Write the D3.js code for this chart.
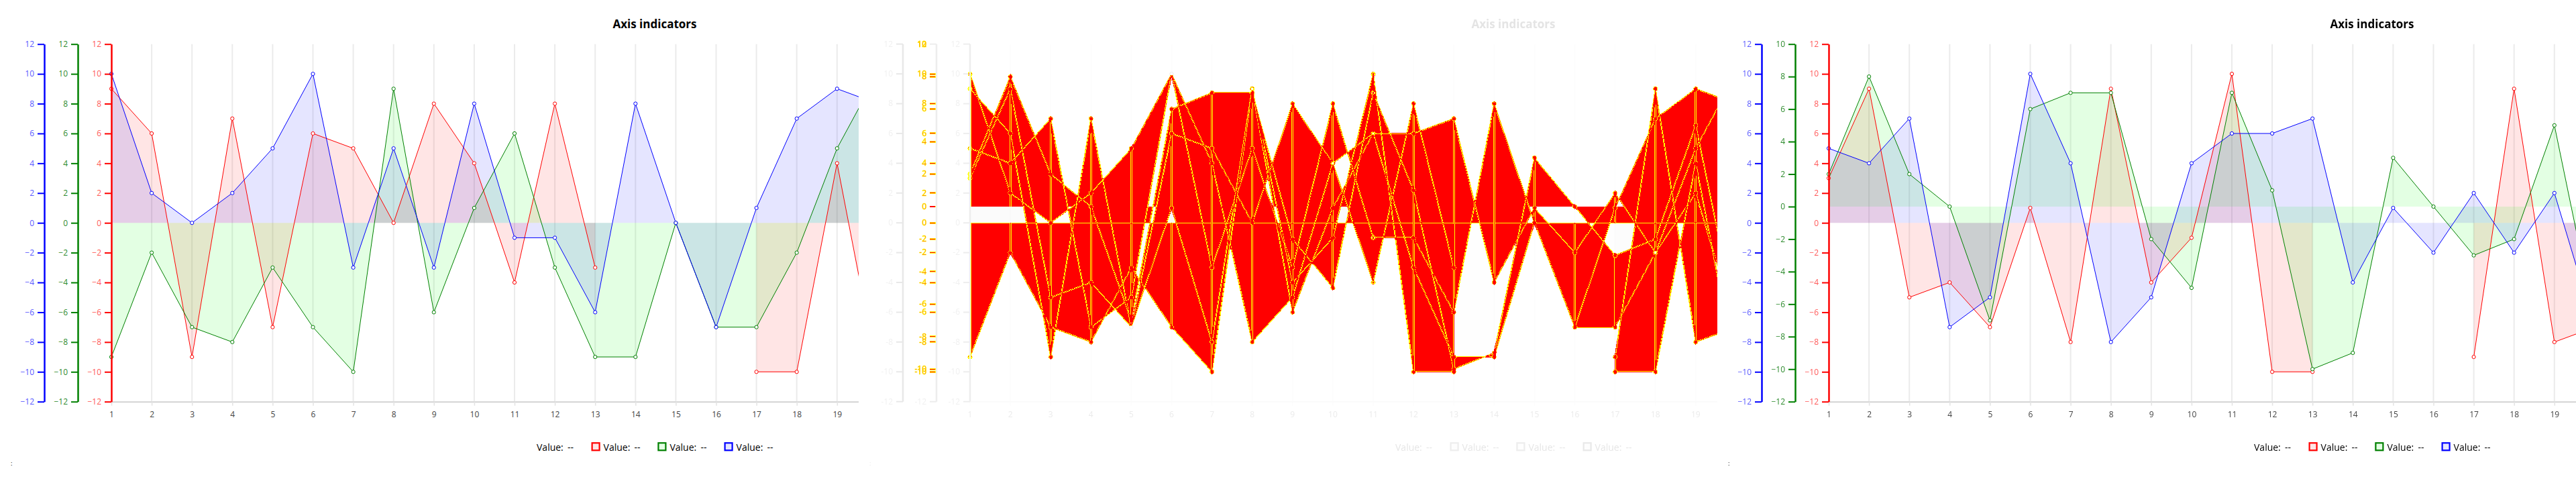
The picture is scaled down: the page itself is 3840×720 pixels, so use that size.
<!DOCTYPE html>
<html><head><meta charset="utf-8">
<script src="https://cdn.jsdelivr.net/npm/d3@7"></script>
<style>
html,body{margin:0;padding:0;background:#fff;}
#wrap{position:relative;width:3840px;height:720px;overflow:hidden;background:#fff;}
#diff{position:absolute;left:1280px;top:0;}
#main{position:absolute;left:0;top:0;}
text{font-family:"Open Sans",sans-serif;}
</style></head><body>
<div id="wrap"><canvas id="diff" width="1280" height="720"></canvas><svg id="main" width="3840" height="720"></svg></div>
<script>
// ---------------- data ----------------
const categories = [1,2,3,4,5,6,7,8,9,10,11,12,13,14,15,16,17,18,19,20]; // 20 lies past the clipped edge
const xTickLabels = [1,2,3,4,5,6,7,8,9,10,11,12,13,14,15,16,17,18,19];
const yTicksMain = [-12,-10,-8,-6,-4,-2,0,2,4,6,8,10,12];
const yTicksGreenRight = [-12,-10,-8,-6,-4,-2,0,2,4,6,8,10];
const titleText = "Axis indicators";
const legendLabels = ["Value:", "Value:", "Value:", "Value:"];
const legendValue = "--";

const leftRed   = [9,6,-9,7,-7,6,5,0,8,4,-4,8,-3,null,null,null,-10,-10,4,-10];
const leftGreen = [-9,-2,-7,-8,-3,-7,-10,9,-6,1,6,-3,-9,-9,0,-7,-7,-2,5,10];
const leftBlue  = [10,2,0,2,5,10,-3,5,-3,8,-1,-1,-6,8,0,-7,1,7,9,8];

const rightRed   = [3,9,-5,-4,-7,1,-8,9,-4,-1,10,-10,-10,null,null,null,-9,9,-8,-7];
const rightGreen = [2,8,2,0,-7,6,7,7,-2,-5,7,1,-10,-9,3,0,-3,-2,5,-7];
const rightBlue  = [5,4,7,-7,-5,10,4,-8,-5,4,6,6,7,-4,1,-2,2,-2,2,-7];

// ---------------- layout ----------------
const W = 1280, H = 720, TOP = 65.7, BOTTOM = 598.7, X0 = 166, STEP = 60.1;
const AX = {blue: 66, green: 116, red: 166};
const TITLE_X = 976;
const x = d3.scaleLinear().domain([1, 20]).range([X0, X0 + 19 * STEP]);
const yMain = d3.scaleLinear().domain([-12, 12]).range([BOTTOM, TOP]);
const yGreenRight = d3.scaleLinear().domain([-12, 10]).range([BOTTOM, TOP]);

const COLOR = {red: '#ff0000', green: '#008000', blue: '#0000ff'};
const FILL = {red: 'rgba(255,0,0,0.1)', green: 'rgba(0,255,0,0.11)', blue: 'rgba(0,0,255,0.1)'};
const LABEL = {red: '#ff5a5a', green: '#2e8b2e', blue: '#5a5aff'};
const legendKeys = [null, 'red', 'green', 'blue'];
const LEG_TEXT_X = [800, 899.6, 998.4, 1097.6];

function makeSpec(r, g, b, greenScale, greenTicks) {
  return {
    axes: [
      {key: 'blue', scale: yMain, ticks: yTicksMain},
      {key: 'green', scale: greenScale, ticks: greenTicks},
      {key: 'red', scale: yMain, ticks: yTicksMain}
    ],
    series: [
      {key: 'red', values: r, scale: yMain},
      {key: 'green', values: g, scale: greenScale},
      {key: 'blue', values: b, scale: yMain}
    ]
  };
}
const specLeft = makeSpec(leftRed, leftGreen, leftBlue, yMain, yTicksMain);
const specRight = makeSpec(rightRed, rightGreen, rightBlue, yGreenRight, yTicksGreenRight);

const defined = d => d != null;
const areaGen = s => d3.area().defined(defined).x((d, i) => x(categories[i])).y0(s.scale(0)).y1(d => s.scale(d));
const lineGen = s => d3.line().defined(defined).x((d, i) => x(categories[i])).y(d => s.scale(d));

// ---------------- SVG panel ----------------
function drawSVGPanel(root, spec) {
  const g = root;
  g.append('rect').attr('width', W).attr('height', H).attr('fill', '#fff');
  g.append('g').selectAll('line').data(xTickLabels).join('line')
    .attr('x1', d => x(d)).attr('x2', d => x(d)).attr('y1', TOP).attr('y2', BOTTOM)
    .attr('stroke', '#ebebeb').attr('stroke-width', 2);
  const xa = g.append('g').attr('transform', `translate(0,${BOTTOM})`)
    .call(d3.axisBottom(x).tickValues(xTickLabels).tickSize(6).tickSizeOuter(0).tickPadding(9));
  xa.select('.domain').attr('stroke', '#d3d3d3').attr('stroke-width', 2);
  xa.selectAll('.tick line').attr('stroke', '#e3e3e3').attr('stroke-width', 1.5);
  xa.selectAll('text').attr('fill', '#444').attr('font-size', 12).attr('font-family', '"Open Sans",sans-serif');

  spec.series.forEach(s => {
    g.append('path').attr('d', areaGen(s)(s.values)).attr('fill', FILL[s.key]).attr('stroke', 'none');
  });
  spec.series.forEach(s => {
    g.append('path').attr('d', lineGen(s)(s.values)).attr('fill', 'none').attr('stroke', COLOR[s.key]).attr('stroke-width', 1);
  });
  spec.series.forEach(s => {
    g.append('g').selectAll('circle').data(s.values.map((v, i) => ({v, c: categories[i]})).filter(d => d.v != null))
      .join('circle').attr('cx', d => x(d.c)).attr('cy', d => s.scale(d.v)).attr('r', 2.6)
      .attr('fill', '#fff').attr('stroke', COLOR[s.key]).attr('stroke-width', 1);
  });
  spec.axes.forEach(a => {
    const ag = g.append('g').attr('transform', `translate(${AX[a.key]},0)`)
      .call(d3.axisLeft(a.scale).tickValues(a.ticks).tickSize(10).tickSizeOuter(0).tickPadding(5));
    ag.select('.domain').attr('stroke', COLOR[a.key]).attr('stroke-width', 2.5);
    ag.selectAll('.tick line').attr('stroke', COLOR[a.key]).attr('stroke-width', 2);
    ag.selectAll('text').attr('fill', LABEL[a.key]).attr('font-size', 12).attr('font-family', '"Open Sans",sans-serif');
  });
  g.append('text').attr('x', TITLE_X).attr('y', 42).attr('text-anchor', 'middle')
    .attr('font-size', 17).attr('font-weight', 'bold').attr('fill', '#000').text(titleText);
  drawLegendSVG(g, '#000', true);
  g.append('text').attr('x', 16).attr('y', 694).attr('font-size', 9).attr('fill', '#000').text(':');
}

function drawLegendSVG(g, textColor, withBoxes) {
  legendKeys.forEach((k, i) => {
    const tx = LEG_TEXT_X[i];
    if (k && withBoxes) {
      g.append('rect').attr('x', tx - 17).attr('y', 660.3).attr('width', 11).attr('height', 11)
        .attr('fill', FILL[k]).attr('stroke', COLOR[k]).attr('stroke-width', 2.2);
    }
    g.append('text').attr('x', tx).attr('y', 671.5).attr('font-size', 14).attr('fill', textColor).text(legendLabels[i]);
    g.append('text').attr('x', tx + 46).attr('y', 671.5).attr('font-size', 14).attr('fill', textColor).text(legendValue);
  });
}

// ---------------- canvas render (for the pixel diff) ----------------
function renderCanvas(spec) {
  const c = document.createElement('canvas'); c.width = W; c.height = H;
  const ctx = c.getContext('2d');
  ctx.fillStyle = '#fff'; ctx.fillRect(0, 0, W, H);
  ctx.strokeStyle = '#ebebeb'; ctx.lineWidth = 2;
  xTickLabels.forEach(t => { ctx.beginPath(); ctx.moveTo(x(t), TOP); ctx.lineTo(x(t), BOTTOM); ctx.stroke(); });
  ctx.strokeStyle = '#e3e3e3'; ctx.lineWidth = 1.5;
  xTickLabels.forEach(t => { ctx.beginPath(); ctx.moveTo(x(t), BOTTOM); ctx.lineTo(x(t), BOTTOM + 6); ctx.stroke(); });
  ctx.strokeStyle = '#d3d3d3'; ctx.lineWidth = 2;
  ctx.beginPath(); ctx.moveTo(x(1), BOTTOM); ctx.lineTo(x(20), BOTTOM); ctx.stroke();
  spec.series.forEach(s => {
    ctx.beginPath(); areaGen(s).context(ctx)(s.values); ctx.fillStyle = FILL[s.key]; ctx.fill();
  });
  spec.series.forEach(s => {
    ctx.beginPath(); lineGen(s).context(ctx)(s.values); ctx.strokeStyle = COLOR[s.key]; ctx.lineWidth = 1; ctx.stroke();
  });
  spec.series.forEach(s => {
    s.values.forEach((v, i) => {
      if (v == null) return;
      ctx.beginPath(); ctx.arc(x(categories[i]), s.scale(v), 2.6, 0, 2 * Math.PI);
      ctx.fillStyle = '#fff'; ctx.fill(); ctx.strokeStyle = COLOR[s.key]; ctx.lineWidth = 1; ctx.stroke();
    });
  });
  spec.axes.forEach(a => {
    const ax = AX[a.key];
    ctx.strokeStyle = COLOR[a.key];
    ctx.lineWidth = 2.5;
    ctx.beginPath(); ctx.moveTo(ax, a.scale.range()[0]); ctx.lineTo(ax, a.scale.range()[1]); ctx.stroke();
    ctx.lineWidth = 2;
    a.ticks.forEach(t => { const yy = a.scale(t); ctx.beginPath(); ctx.moveTo(ax - 10, yy); ctx.lineTo(ax, yy); ctx.stroke(); });
  });
  legendKeys.forEach((k, i) => {
    if (!k) return;
    const tx = LEG_TEXT_X[i];
    ctx.fillStyle = '#fff'; ctx.fillRect(tx - 17, 660.3, 11, 11);
    ctx.fillStyle = FILL[k]; ctx.fillRect(tx - 17, 660.3, 11, 11);
    ctx.strokeStyle = COLOR[k]; ctx.lineWidth = 2.2; ctx.strokeRect(tx - 17, 660.3, 11, 11);
  });
  return ctx.getImageData(0, 0, W, H).data;
}

// ---------------- pixel diff ----------------
const rgb2y = (r, g, b) => r * 0.29889531 + g * 0.58662247 + b * 0.11448223;
const rgb2i = (r, g, b) => r * 0.59597799 - g * 0.27417610 - b * 0.32180189;
const rgb2q = (r, g, b) => r * 0.21147017 - g * 0.52261711 + b * 0.31114694;
const blend = (c, a) => 255 + (c - 255) * a;
function colorDelta(i1, i2, k, m, yOnly) {
  let r1 = i1[k], g1 = i1[k + 1], b1 = i1[k + 2], a1 = i1[k + 3];
  let r2 = i2[m], g2 = i2[m + 1], b2 = i2[m + 2], a2 = i2[m + 3];
  if (a1 === a2 && r1 === r2 && g1 === g2 && b1 === b2) return 0;
  if (a1 < 255) { a1 /= 255; r1 = blend(r1, a1); g1 = blend(g1, a1); b1 = blend(b1, a1); }
  if (a2 < 255) { a2 /= 255; r2 = blend(r2, a2); g2 = blend(g2, a2); b2 = blend(b2, a2); }
  const y1 = rgb2y(r1, g1, b1), y2 = rgb2y(r2, g2, b2), y = y1 - y2;
  if (yOnly) return y;
  const i = rgb2i(r1, g1, b1) - rgb2i(r2, g2, b2);
  const q = rgb2q(r1, g1, b1) - rgb2q(r2, g2, b2);
  const d = 0.5053 * y * y + 0.299 * i * i + 0.1957 * q * q;
  return y1 > y2 ? -d : d;
}
function hasManySiblings(img, x1, y1, w, h) {
  const x0 = Math.max(x1 - 1, 0), y0 = Math.max(y1 - 1, 0), x2 = Math.min(x1 + 1, w - 1), y2 = Math.min(y1 + 1, h - 1);
  const pos = (y1 * w + x1) * 4;
  let zeroes = (x1 === x0 || x1 === x2 || y1 === y0 || y1 === y2) ? 1 : 0;
  for (let xx = x0; xx <= x2; xx++) for (let yy = y0; yy <= y2; yy++) {
    if (xx === x1 && yy === y1) continue;
    const p2 = (yy * w + xx) * 4;
    if (img[pos] === img[p2] && img[pos + 1] === img[p2 + 1] && img[pos + 2] === img[p2 + 2] && img[pos + 3] === img[p2 + 3]) zeroes++;
    if (zeroes > 2) return true;
  }
  return false;
}
function antialiased(img, x1, y1, w, h, img2) {
  const x0 = Math.max(x1 - 1, 0), y0 = Math.max(y1 - 1, 0), x2 = Math.min(x1 + 1, w - 1), y2 = Math.min(y1 + 1, h - 1);
  const pos = (y1 * w + x1) * 4;
  let zeroes = (x1 === x0 || x1 === x2 || y1 === y0 || y1 === y2) ? 1 : 0;
  let min = 0, max = 0, minX, minY, maxX, maxY;
  for (let xx = x0; xx <= x2; xx++) for (let yy = y0; yy <= y2; yy++) {
    if (xx === x1 && yy === y1) continue;
    const d = colorDelta(img, img, pos, (yy * w + xx) * 4, true);
    if (d === 0) { zeroes++; if (zeroes > 2) return false; }
    else if (d < min) { min = d; minX = xx; minY = yy; }
    else if (d > max) { max = d; maxX = xx; maxY = yy; }
  }
  if (min === 0 || max === 0) return false;
  return (hasManySiblings(img, minX, minY, w, h) && hasManySiblings(img2, minX, minY, w, h)) ||
         (hasManySiblings(img, maxX, maxY, w, h) && hasManySiblings(img2, maxX, maxY, w, h));
}
function pixelDiff(a, b, out, w, h) {
  const maxDelta = 0; // strict comparison: any colour change counts
  for (let yy = 0; yy < h; yy++) for (let xx = 0; xx < w; xx++) {
    const pos = (yy * w + xx) * 4;
    const d = colorDelta(a, b, pos, pos, false);
    if (Math.abs(d) > maxDelta) {
      if (antialiased(a, xx, yy, w, h, b) || antialiased(b, xx, yy, w, h, a)) { out[pos] = 255; out[pos + 1] = 255; out[pos + 2] = 0; }
      else { out[pos] = 255; out[pos + 1] = 0; out[pos + 2] = 0; }
    } else {
      const v = blend(rgb2y(a[pos], a[pos + 1], a[pos + 2]), 0.1 * a[pos + 3] / 255);
      out[pos] = v; out[pos + 1] = v; out[pos + 2] = v;
    }
    out[pos + 3] = 255;
  }
}

// ---------------- build ----------------
const svg = d3.select('#main');
const leftPanel = svg.append('svg').attr('x', 0).attr('y', 0).attr('width', W).attr('height', H);
drawSVGPanel(leftPanel, specLeft);
const rightPanel = svg.append('svg').attr('x', 2560).attr('y', 0).attr('width', W).attr('height', H);
drawSVGPanel(rightPanel, specRight);

// middle: pixel comparison of the two charts
const imgA = renderCanvas(specLeft), imgB = renderCanvas(specRight);
const dctx = document.getElementById('diff').getContext('2d');
const outImg = dctx.createImageData(W, H);
pixelDiff(imgA, imgB, outImg.data, W, H);
dctx.putImageData(outImg, 0, 0);

// middle text overlay (faded where identical, diff-coloured where different)
const mid = svg.append('svg').attr('x', 1280).attr('y', 0).attr('width', W).attr('height', H);
mid.append('text').attr('x', TITLE_X).attr('y', 42).attr('text-anchor', 'middle')
  .attr('font-size', 17).attr('font-weight', 'bold').attr('fill', '#e4e4e4').text(titleText);
mid.append('g').selectAll('text').data(xTickLabels).join('text')
  .attr('x', d => x(d)).attr('y', BOTTOM + 15).attr('dy', '0.71em').attr('text-anchor', 'middle')
  .attr('font-size', 12).attr('fill', '#ebebeb').text(d => d);
['blue', 'red'].forEach(k => {
  mid.append('g').selectAll('text').data(yTicksMain).join('text')
    .attr('x', AX[k] - 15).attr('y', d => yMain(d)).attr('dy', '0.32em').attr('text-anchor', 'end')
    .attr('font-size', 12).attr('fill', '#f0f0f0').text(d => d);
});
const gLeftTicks = yTicksMain.map(v => ({v, y: yMain(v)}));
const gRightTicks = yTicksGreenRight.map(v => ({v, y: yGreenRight(v)}));
const same = (t, arr) => arr.some(o => o.v === t.v && Math.abs(o.y - t.y) < 0.5);
const diffTicks = gLeftTicks.filter(t => !same(t, gRightTicks)).concat(gRightTicks.filter(t => !same(t, gLeftTicks)));
const sameTicks = gLeftTicks.filter(t => same(t, gRightTicks));
mid.append('g').selectAll('text').data(diffTicks).join('text')
  .attr('x', AX.green - 15).attr('y', d => d.y).attr('dy', '0.32em').attr('text-anchor', 'end')
  .attr('font-size', 12).attr('fill', '#ff0000').attr('stroke', '#ffff00').attr('stroke-width', 0.6).text(d => d.v);
mid.append('g').selectAll('text').data(sameTicks).join('text')
  .attr('x', AX.green - 15).attr('y', d => d.y).attr('dy', '0.32em').attr('text-anchor', 'end')
  .attr('font-size', 12).attr('fill', '#f0f0f0').text(d => d.v);
drawLegendSVG(mid, '#e6e6e6', false);
mid.append('text').attr('x', 16).attr('y', 694).attr('font-size', 9).attr('fill', '#e6e6e6').text(':');
</script>
</body></html>
